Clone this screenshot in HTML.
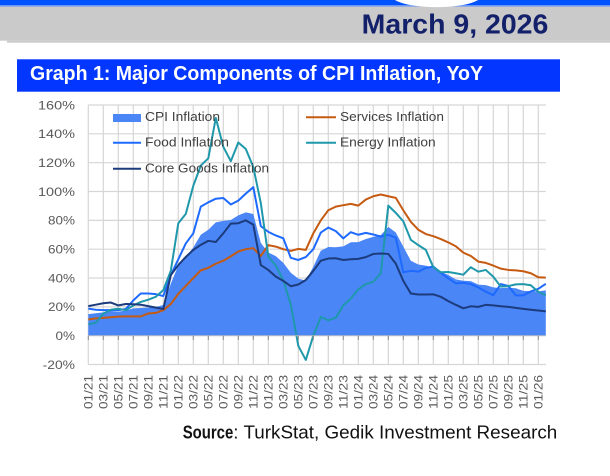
<!DOCTYPE html>
<html>
<head>
<meta charset="utf-8">
<style>
  html,body{margin:0;padding:0;background:#fff;}
  body{width:610px;height:476px;overflow:hidden;}
  svg{display:block;}
  text{font-family:"Liberation Sans",sans-serif;}
</style>
</head>
<body>
<svg width="610" height="476" viewBox="0 0 610 476" xmlns="http://www.w3.org/2000/svg">
  <!-- Header -->
  <rect x="0" y="0" width="610" height="5.2" fill="#0052ff"/>
  <rect x="0" y="5.2" width="610" height="1.3" fill="#5f8ff5"/>
  <rect x="0" y="6.5" width="610" height="34.2" fill="#cacaca"/>
  <rect x="7" y="40.7" width="603" height="2" fill="#cacaca"/>
  <path d="M395,0 C410,9.5 463,9.5 478,0 Z" fill="#ffffff"/>
  <text x="361.7" y="33.3" font-size="28" font-weight="bold" fill="#13206a" textLength="186.6" lengthAdjust="spacingAndGlyphs">March 9, 2026</text>

  <!-- Title bar -->
  <rect x="17" y="59.3" width="543" height="32.4" fill="#0336ff"/>
  <text x="30" y="80" font-size="20" font-weight="bold" fill="#ffffff" textLength="453" lengthAdjust="spacingAndGlyphs">Graph 1: Major Components of CPI Inflation, YoY</text>

  <!-- Grid -->
  <g stroke="#d6d6d6" stroke-width="1.2">
    <line x1="88.3" y1="105" x2="545.8" y2="105"/>
    <line x1="88.3" y1="133.8" x2="545.8" y2="133.8"/>
    <line x1="88.3" y1="162.7" x2="545.8" y2="162.7"/>
    <line x1="88.3" y1="191.5" x2="545.8" y2="191.5"/>
    <line x1="88.3" y1="220.4" x2="545.8" y2="220.4"/>
    <line x1="88.3" y1="249.2" x2="545.8" y2="249.2"/>
    <line x1="88.3" y1="278.0" x2="545.8" y2="278.0"/>
    <line x1="88.3" y1="306.9" x2="545.8" y2="306.9"/>
    <line x1="88.3" y1="364.5" x2="545.8" y2="364.5"/>
    <line x1="88.3" y1="105" x2="88.3" y2="364.5"/>
    <line x1="103.3" y1="105" x2="103.3" y2="364.5"/>
    <line x1="118.3" y1="105" x2="118.3" y2="364.5"/>
    <line x1="133.3" y1="105" x2="133.3" y2="364.5"/>
    <line x1="148.3" y1="105" x2="148.3" y2="364.5"/>
    <line x1="163.3" y1="105" x2="163.3" y2="364.5"/>
    <line x1="178.3" y1="105" x2="178.3" y2="364.5"/>
    <line x1="193.3" y1="105" x2="193.3" y2="364.5"/>
    <line x1="208.3" y1="105" x2="208.3" y2="364.5"/>
    <line x1="223.3" y1="105" x2="223.3" y2="364.5"/>
    <line x1="238.3" y1="105" x2="238.3" y2="364.5"/>
    <line x1="253.3" y1="105" x2="253.3" y2="364.5"/>
    <line x1="268.3" y1="105" x2="268.3" y2="364.5"/>
    <line x1="283.3" y1="105" x2="283.3" y2="364.5"/>
    <line x1="298.3" y1="105" x2="298.3" y2="364.5"/>
    <line x1="313.3" y1="105" x2="313.3" y2="364.5"/>
    <line x1="328.3" y1="105" x2="328.3" y2="364.5"/>
    <line x1="343.3" y1="105" x2="343.3" y2="364.5"/>
    <line x1="358.3" y1="105" x2="358.3" y2="364.5"/>
    <line x1="373.3" y1="105" x2="373.3" y2="364.5"/>
    <line x1="388.3" y1="105" x2="388.3" y2="364.5"/>
    <line x1="403.3" y1="105" x2="403.3" y2="364.5"/>
    <line x1="418.3" y1="105" x2="418.3" y2="364.5"/>
    <line x1="433.3" y1="105" x2="433.3" y2="364.5"/>
    <line x1="448.3" y1="105" x2="448.3" y2="364.5"/>
    <line x1="463.3" y1="105" x2="463.3" y2="364.5"/>
    <line x1="478.3" y1="105" x2="478.3" y2="364.5"/>
    <line x1="493.3" y1="105" x2="493.3" y2="364.5"/>
    <line x1="508.3" y1="105" x2="508.3" y2="364.5"/>
    <line x1="523.3" y1="105" x2="523.3" y2="364.5"/>
    <line x1="538.3" y1="105" x2="538.3" y2="364.5"/>
  </g>

  <!-- Series (data coords: x=month index, y=percent) -->
  <g transform="matrix(7.5 0 0 -1.442 88.3 335.7)">
    <polygon fill="#4a86f6" points="0,0 0,14.97 1,15.61 2,16.19 3,17.14 4,16.59 5,17.53 6,18.95 7,19.25 8,19.58 9,19.89 10,21.31 11,36.08 12,48.69 13,54.44 14,61.14 15,69.97 16,73.5 17,78.62 18,79.6 19,80.21 20,83.45 21,85.51 22,84.39 23,64.27 24,57.68 25,55.18 26,50.51 27,43.68 28,39.59 29,38.21 30,47.83 31,58.94 32,61.53 33,61.36 34,61.98 35,64.77 36,64.86 37,67.07 38,68.5 39,69.8 40,75.45 41,71.6 42,61.78 43,51.97 44,49.38 45,48.58 46,47.09 47,44.38 48,42.12 49,39.05 50,38.1 51,37.86 52,35.41 53,35.05 54,33.52 55,32.95 56,33.29 57,32.87 58,31.07 59,30.89 60,30.65 61,31.5 61,0"/>
    <polyline fill="none" stroke="#c65a11" stroke-width="2" stroke-linejoin="round" vector-effect="non-scaling-stroke" points="0,11.2 1,12 2,12.4 3,12.8 4,13.2 5,13.4 6,13.4 7,13.4 8,15.4 9,15.8 10,17.7 11,22 12,29 13,34.5 14,40 15,45.3 16,47.1 17,49.9 18,52 19,55 20,58.4 21,60 22,60.7 23,55.3 24,62.8 25,61.8 26,60 27,58.8 28,60.2 29,59.5 30,71 31,80 32,87 33,89.5 34,90.5 35,91.4 36,90.2 37,94.4 38,96.7 39,97.9 40,96.7 41,95.6 42,87 43,79 44,73.5 45,70.5 46,69 47,67 48,64.7 49,62 50,57.6 51,55.3 52,51.4 53,50.5 54,48.6 55,46.5 56,45.6 57,45.3 58,44.7 59,43.3 60,40.5 61,40.3"/>
    <polyline fill="none" stroke="#1e6aff" stroke-width="2" stroke-linejoin="round" vector-effect="non-scaling-stroke" points="0,18.8 1,18 2,17.7 3,17.7 4,17.7 5,18.5 6,24.5 7,29.3 8,29.3 9,28.8 10,27.5 11,42 12,53 13,64 14,71 15,89.5 16,92.5 17,95 18,95.5 19,91 20,93.7 21,98.5 22,103 23,76 24,72 25,69.5 26,67.5 27,54 28,52.5 29,54.5 30,60 31,71.5 32,75 33,72.5 34,67.5 35,71.8 36,70 37,71.3 38,70.2 39,68.7 40,70 41,68 42,44 43,45 44,44.4 45,47 46,48 47,43.6 48,39.8 49,36.3 50,36.7 51,35.8 52,33.5 53,30.5 54,28.1 55,35.8 56,34.5 57,28 58,28 59,30.7 60,32.5 61,36"/>
    <polyline fill="none" stroke="#1f98ab" stroke-width="2" stroke-linejoin="round" vector-effect="non-scaling-stroke" points="0,7.9 1,9 2,15.3 3,18 4,18.7 5,17.7 6,21 7,23.4 8,25 9,27 10,31.6 11,45 12,78 13,84.5 14,104 15,118 16,123 17,151 18,131 19,121 20,134 21,129.5 22,117 23,92 24,55 25,48.5 26,38.6 27,21.5 28,-7 29,-16.8 30,0 31,13 32,10.7 33,12.5 34,21 35,25.8 36,32.1 37,35.8 38,37.4 39,43.3 40,90.2 41,85.2 42,79.3 43,66.5 44,62.8 45,59.5 46,47.5 47,44 48,44.2 49,43.3 50,42.3 51,47.5 52,44.4 53,45.6 54,40.9 55,34 56,34.4 57,35.6 58,35.8 59,35 60,30.4 61,28.1"/>
    <polyline fill="none" stroke="#1c3b7c" stroke-width="2" stroke-linejoin="round" vector-effect="non-scaling-stroke" points="0,20.5 1,21.5 2,22.5 3,23 4,21 5,22 6,21.8 7,21.5 8,20.5 9,19.5 10,18.5 11,42 12,49 13,54.6 14,59.5 15,63 16,65.8 17,65 18,71 19,77.7 20,78 21,80 22,77 23,49 24,45.6 25,41 26,38 27,34.3 28,35.5 29,38.6 30,45 31,52 32,53.5 33,53.7 34,52.5 35,53 36,53.3 37,54.5 38,56.7 39,57 40,56.7 41,50 42,38 43,29.3 44,28.6 45,28.6 46,28.7 47,27 48,24 49,21.4 50,19 51,20.4 52,20 53,21.4 54,21 55,20.4 56,20 57,19.3 58,18.6 59,18 60,17.5 61,16.9"/>
  </g>

  <!-- zero axis + ticks -->
  <line x1="88.3" y1="335.7" x2="545.8" y2="335.7" stroke="#bfbfbf" stroke-width="1"/>
  <g stroke="#8c8c8c" stroke-width="1">
    <line x1="88.3" y1="335.7" x2="88.3" y2="340"/><line x1="103.3" y1="335.7" x2="103.3" y2="340"/><line x1="118.3" y1="335.7" x2="118.3" y2="340"/><line x1="133.3" y1="335.7" x2="133.3" y2="340"/><line x1="148.3" y1="335.7" x2="148.3" y2="340"/><line x1="163.3" y1="335.7" x2="163.3" y2="340"/><line x1="178.3" y1="335.7" x2="178.3" y2="340"/><line x1="193.3" y1="335.7" x2="193.3" y2="340"/><line x1="208.3" y1="335.7" x2="208.3" y2="340"/><line x1="223.3" y1="335.7" x2="223.3" y2="340"/><line x1="238.3" y1="335.7" x2="238.3" y2="340"/><line x1="253.3" y1="335.7" x2="253.3" y2="340"/><line x1="268.3" y1="335.7" x2="268.3" y2="340"/><line x1="283.3" y1="335.7" x2="283.3" y2="340"/><line x1="298.3" y1="335.7" x2="298.3" y2="340"/><line x1="313.3" y1="335.7" x2="313.3" y2="340"/><line x1="328.3" y1="335.7" x2="328.3" y2="340"/><line x1="343.3" y1="335.7" x2="343.3" y2="340"/><line x1="358.3" y1="335.7" x2="358.3" y2="340"/><line x1="373.3" y1="335.7" x2="373.3" y2="340"/><line x1="388.3" y1="335.7" x2="388.3" y2="340"/><line x1="403.3" y1="335.7" x2="403.3" y2="340"/><line x1="418.3" y1="335.7" x2="418.3" y2="340"/><line x1="433.3" y1="335.7" x2="433.3" y2="340"/><line x1="448.3" y1="335.7" x2="448.3" y2="340"/><line x1="463.3" y1="335.7" x2="463.3" y2="340"/><line x1="478.3" y1="335.7" x2="478.3" y2="340"/><line x1="493.3" y1="335.7" x2="493.3" y2="340"/><line x1="508.3" y1="335.7" x2="508.3" y2="340"/><line x1="523.3" y1="335.7" x2="523.3" y2="340"/><line x1="538.3" y1="335.7" x2="538.3" y2="340"/>
  </g>

  <!-- Y axis labels -->
  <g font-size="12" fill="#595959" text-anchor="end">
    <text x="75" y="109.3" textLength="37" lengthAdjust="spacingAndGlyphs">160%</text>
    <text x="75" y="138.1" textLength="37" lengthAdjust="spacingAndGlyphs">140%</text>
    <text x="75" y="167" textLength="37" lengthAdjust="spacingAndGlyphs">120%</text>
    <text x="75" y="195.8" textLength="37" lengthAdjust="spacingAndGlyphs">100%</text>
    <text x="75" y="224.7" textLength="27" lengthAdjust="spacingAndGlyphs">80%</text>
    <text x="75" y="253.5" textLength="27" lengthAdjust="spacingAndGlyphs">60%</text>
    <text x="75" y="282.3" textLength="27" lengthAdjust="spacingAndGlyphs">40%</text>
    <text x="75" y="311.2" textLength="27" lengthAdjust="spacingAndGlyphs">20%</text>
    <text x="75" y="340" textLength="19.5" lengthAdjust="spacingAndGlyphs">0%</text>
    <text x="75" y="368.8" textLength="32.3" lengthAdjust="spacingAndGlyphs">-20%</text>
  </g>

  <!-- X axis labels (rotated) -->
  <g font-size="12" fill="#595959" text-anchor="end">
    <text transform="translate(92.5,375) rotate(-90)" textLength="34" lengthAdjust="spacingAndGlyphs">01/21</text>
    <text transform="translate(107.5,375) rotate(-90)" textLength="34" lengthAdjust="spacingAndGlyphs">03/21</text>
    <text transform="translate(122.5,375) rotate(-90)" textLength="34" lengthAdjust="spacingAndGlyphs">05/21</text>
    <text transform="translate(137.5,375) rotate(-90)" textLength="34" lengthAdjust="spacingAndGlyphs">07/21</text>
    <text transform="translate(152.5,375) rotate(-90)" textLength="34" lengthAdjust="spacingAndGlyphs">09/21</text>
    <text transform="translate(167.5,375) rotate(-90)" textLength="34" lengthAdjust="spacingAndGlyphs">11/21</text>
    <text transform="translate(182.5,375) rotate(-90)" textLength="34" lengthAdjust="spacingAndGlyphs">01/22</text>
    <text transform="translate(197.5,375) rotate(-90)" textLength="34" lengthAdjust="spacingAndGlyphs">03/22</text>
    <text transform="translate(212.5,375) rotate(-90)" textLength="34" lengthAdjust="spacingAndGlyphs">05/22</text>
    <text transform="translate(227.5,375) rotate(-90)" textLength="34" lengthAdjust="spacingAndGlyphs">07/22</text>
    <text transform="translate(242.5,375) rotate(-90)" textLength="34" lengthAdjust="spacingAndGlyphs">09/22</text>
    <text transform="translate(257.5,375) rotate(-90)" textLength="34" lengthAdjust="spacingAndGlyphs">11/22</text>
    <text transform="translate(272.5,375) rotate(-90)" textLength="34" lengthAdjust="spacingAndGlyphs">01/23</text>
    <text transform="translate(287.5,375) rotate(-90)" textLength="34" lengthAdjust="spacingAndGlyphs">03/23</text>
    <text transform="translate(302.5,375) rotate(-90)" textLength="34" lengthAdjust="spacingAndGlyphs">05/23</text>
    <text transform="translate(317.5,375) rotate(-90)" textLength="34" lengthAdjust="spacingAndGlyphs">07/23</text>
    <text transform="translate(332.5,375) rotate(-90)" textLength="34" lengthAdjust="spacingAndGlyphs">09/23</text>
    <text transform="translate(347.5,375) rotate(-90)" textLength="34" lengthAdjust="spacingAndGlyphs">11/23</text>
    <text transform="translate(362.5,375) rotate(-90)" textLength="34" lengthAdjust="spacingAndGlyphs">01/24</text>
    <text transform="translate(377.5,375) rotate(-90)" textLength="34" lengthAdjust="spacingAndGlyphs">03/24</text>
    <text transform="translate(392.5,375) rotate(-90)" textLength="34" lengthAdjust="spacingAndGlyphs">05/24</text>
    <text transform="translate(407.5,375) rotate(-90)" textLength="34" lengthAdjust="spacingAndGlyphs">07/24</text>
    <text transform="translate(422.5,375) rotate(-90)" textLength="34" lengthAdjust="spacingAndGlyphs">09/24</text>
    <text transform="translate(437.5,375) rotate(-90)" textLength="34" lengthAdjust="spacingAndGlyphs">11/24</text>
    <text transform="translate(452.5,375) rotate(-90)" textLength="34" lengthAdjust="spacingAndGlyphs">01/25</text>
    <text transform="translate(467.5,375) rotate(-90)" textLength="34" lengthAdjust="spacingAndGlyphs">03/25</text>
    <text transform="translate(482.5,375) rotate(-90)" textLength="34" lengthAdjust="spacingAndGlyphs">05/25</text>
    <text transform="translate(497.5,375) rotate(-90)" textLength="34" lengthAdjust="spacingAndGlyphs">07/25</text>
    <text transform="translate(512.5,375) rotate(-90)" textLength="34" lengthAdjust="spacingAndGlyphs">09/25</text>
    <text transform="translate(527.5,375) rotate(-90)" textLength="34" lengthAdjust="spacingAndGlyphs">11/25</text>
    <text transform="translate(542.5,375) rotate(-90)" textLength="34" lengthAdjust="spacingAndGlyphs">01/26</text>
  </g>

  <!-- Legend -->
  <rect x="113" y="114" width="28" height="8" fill="#4a86f6"/>
  <line x1="113" y1="142.7" x2="141" y2="142.7" stroke="#1e6aff" stroke-width="2"/>
  <line x1="113" y1="168.7" x2="141" y2="168.7" stroke="#1c3b7c" stroke-width="2"/>
  <line x1="306" y1="117.3" x2="336" y2="117.3" stroke="#c65a11" stroke-width="2"/>
  <line x1="306" y1="142.7" x2="336" y2="142.7" stroke="#1f98ab" stroke-width="2"/>
  <g font-size="12.5" fill="#404040">
    <text x="145" y="121" textLength="75" lengthAdjust="spacingAndGlyphs">CPI Inflation</text>
    <text x="145" y="146.7" textLength="84" lengthAdjust="spacingAndGlyphs">Food Inflation</text>
    <text x="145" y="172.7" textLength="124" lengthAdjust="spacingAndGlyphs">Core Goods Inflation</text>
    <text x="340" y="121" textLength="104" lengthAdjust="spacingAndGlyphs">Services Inflation</text>
    <text x="340" y="146.7" textLength="95.7" lengthAdjust="spacingAndGlyphs">Energy Inflation</text>
  </g>

  <!-- Source -->
  <text y="438.3" font-size="18.5" fill="#111111"><tspan x="182.7" font-weight="bold" textLength="50.6" lengthAdjust="spacingAndGlyphs">Source</tspan><tspan x="233.3" textLength="324" lengthAdjust="spacingAndGlyphs">: TurkStat, Gedik Investment Research</tspan></text>
</svg>
</body>
</html>
